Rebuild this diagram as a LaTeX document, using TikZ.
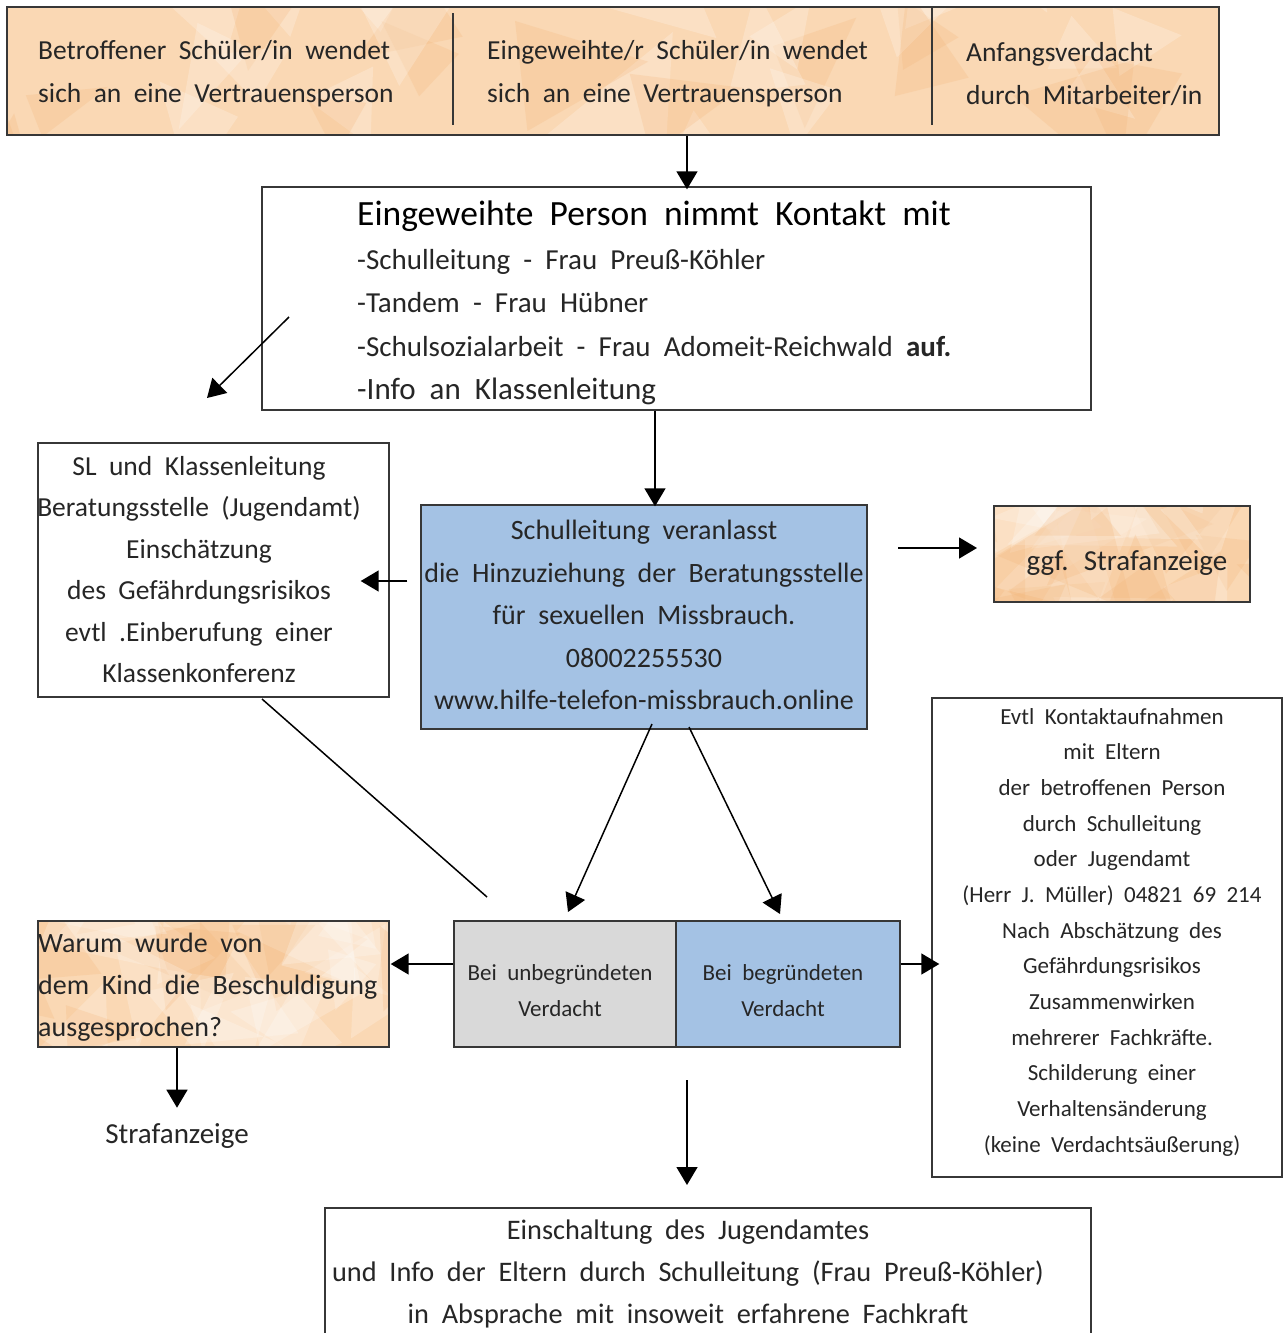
\documentclass[tikz,border=0pt]{standalone}
\usepackage{fontspec}
\setmainfont{Carlito}[WordSpace=2]
\usetikzlibrary{arrows.meta}
\definecolor{orbase}{RGB}{250,216,180}
\definecolor{ordark}{RGB}{243,178,115}
\definecolor{bluebox}{RGB}{164,194,228}
\definecolor{greybox}{RGB}{217,217,217}
\definecolor{frameclr}{RGB}{55,55,55}
\newcommand\facetbox[5]{%
  \begin{scope}
    \clip (#1,#2) rectangle (#3,#4);
    \fill[orbase] (#1,#2) rectangle (#3,#4);
    \pgfmathsetseed{#5}
    \foreach \k in {1,...,34}{%
      \pgfmathsetmacro\cx{#1+rnd*(#3-#1)}%
      \pgfmathsetmacro\cy{#2+rnd*(#4-#2)}%
      \pgfmathsetmacro\ra{60+rnd*80}%
      \pgfmathsetmacro\aa{rnd*360}%
      \pgfmathsetmacro\ab{\aa+90+rnd*60}%
      \pgfmathsetmacro\tone{rnd}%
      \ifdim\tone pt<0.55pt \def\fc{white}\else\def\fc{ordark}\fi
      \fill[\fc,opacity=0.22] (\cx,\cy) -- ++(\aa:\ra) -- ++(\ab:\ra) -- cycle;
    }
  \end{scope}}
\begin{document}
\begin{tikzpicture}[x=1pt,y=-1pt,
  frame/.style={draw=frameclr, line width=1.4pt, inner sep=0pt},
  txt/.style={inner sep=0pt, text=black!85},
  arr/.style={line width=1.5pt, draw=black, -{Triangle[length=18pt,width=21pt]}},
  plain/.style={line width=1.5pt, draw=black}]
\fill[white] (0,0) rectangle (1283,1333);
\useasboundingbox (0,0) rectangle (1283,1333);

% ---------- orange backgrounds
\facetbox{7}{7}{1219}{135}{11}
\facetbox{994}{506}{1250}{602}{23}
\facetbox{38}{921}{389}{1047}{37}

% ---------- boxes
\node[frame, minimum width=1212pt, minimum height=128pt] (top) at (613,71) {};
\draw[line width=1.4pt, frameclr] (453,13) -- (453,125);
\draw[line width=1.4pt, frameclr] (932,7) -- (932,125);
\node[frame, fill=white, minimum width=829pt, minimum height=223pt] (kontakt) at (676.5,298.5) {};
\node[frame, fill=white, minimum width=351pt, minimum height=254pt] (leftbox) at (213.5,570) {};
\node[frame, fill=bluebox, minimum width=446pt, minimum height=224pt] (blue) at (644,617) {};
\node[frame, minimum width=256pt, minimum height=96pt] (straf) at (1122,554) {};
\node[frame, fill=greybox, minimum width=222pt, minimum height=126pt] (splitL) at (565,984) {};
\node[frame, fill=bluebox, minimum width=224pt, minimum height=126pt] (splitR) at (788,984) {};
\node[frame, minimum width=351pt, minimum height=126pt] (warum) at (213.5,984) {};
\node[frame, fill=white, minimum width=350pt, minimum height=479pt] (evtl) at (1107,937.5) {};
\node[frame, fill=white, minimum width=766pt, minimum height=137pt] (bottom) at (708,1276.5) {};

% ---------- texts
\node[txt, anchor=west, align=left, font=\fontsize{27.5}{43}\selectfont] (t1) at (38,74)
  {Betroffener Schüler/in wendet\\sich an eine Vertrauensperson};
\node[txt, anchor=west, align=left, font=\fontsize{27.5}{43}\selectfont] (t2) at (487,74)
  {Eingeweihte/r Schüler/in wendet\\sich an eine Vertrauensperson};
\node[txt, anchor=west, align=left, font=\fontsize{27.5}{43}\selectfont] (t3) at (966,74)
  {Anfangsverdacht\\durch Mitarbeiter/in};
\node[txt, anchor=west, font=\fontsize{35.5}{40}\selectfont, text=black] (ktitle) at (357,216)
  {Eingeweihte Person nimmt Kontakt mit};
\node[txt, anchor=west, align=left, font=\fontsize{29}{43.3}\selectfont] (klines) at (357,327)
  {-Schulleitung - Frau Preuß-Köhler\\-Tandem - Frau Hübner\\-Schulsozialarbeit - Frau Adomeit-Reichwald \textbf{auf.}\\{\fontsize{31}{43.3}\selectfont -Info an Klassenleitung}};
\node[txt, align=center, font=\fontsize{27.5}{41.4}\selectfont] (tleft) at (199,569.5)
  {SL und Klassenleitung\\Beratungsstelle (Jugendamt)\\Einschätzung\\des Gefährdungsrisikos\\evtl .Einberufung einer\\Klassenkonferenz};
\node[txt, align=center, font=\fontsize{28}{42.5}\selectfont] (tblue) at (644,615)
  {Schulleitung veranlasst\\die Hinzuziehung der Beratungsstelle\\für sexuellen Missbrauch.\\08002255530\\www.hilfe-telefon-missbrauch.online};
\node[txt, font=\fontsize{29}{30}\selectfont] (tstraf) at (1127,563) {ggf. Strafanzeige};
\node[txt, align=center, font=\fontsize{23}{36}\selectfont] (tsl) at (560,991)
  {Bei unbegründeten\\Verdacht};
\node[txt, align=center, font=\fontsize{23}{36}\selectfont] (tsr) at (783,991)
  {Bei begründeten\\Verdacht};
\node[txt, anchor=west, align=left, font=\fontsize{28}{42}\selectfont] (twarum) at (38,987)
  {Warum wurde von\\dem Kind die Beschuldigung\\ausgesprochen?};
\node[txt, font=\fontsize{29}{30}\selectfont] (tstraf2) at (177,1136) {Strafanzeige};
\node[txt, align=center, font=\fontsize{23}{35.67}\selectfont] (tevtl) at (1112,932)
  {Evtl Kontaktaufnahmen\\mit Eltern\\der betroffenen Person\\durch Schulleitung\\oder Jugendamt\\(Herr J. Müller) 04821 69 214\\Nach Abschätzung des\\Gefährdungsrisikos\\Zusammenwirken\\mehrerer Fachkräfte.\\Schilderung einer\\Verhaltensänderung\\(keine Verdachtsäußerung)};
\node[txt, align=center, font=\fontsize{28.3}{42}\selectfont] (tbottom) at (688,1274)
  {Einschaltung des Jugendamtes\\und Info der Eltern durch Schulleitung (Frau Preuß-Köhler)\\in Absprache mit insoweit erfahrene Fachkraft};

% ---------- free connector ends
\coordinate (d1) at (289,317);
\coordinate (d2) at (207,398);
\coordinate (s1) at (898,548);
\coordinate (s2) at (977,548);
\coordinate (b1) at (652,724);
\coordinate (b2) at (568,912);
\coordinate (b3) at (689,727);
\coordinate (b4) at (780,914);
\coordinate (l1) at (262,699);
\coordinate (l2) at (487,897);
\coordinate (v1) at (687,1080);
\coordinate (v2) at (687,1185);

% ---------- connectors
\draw[arr] ([xshift=10.5pt]kontakt.north |- top.south) -- ([xshift=10.5pt,yshift=-3pt]kontakt.north);
\draw[arr] (d1) -- (d2);
\draw[arr] ([xshift=11pt]blue.north |- kontakt.south) -- ([xshift=11pt,yshift=-2pt]blue.north);
\draw[arr] ([xshift=-13pt,yshift=36pt]blue.west) -- ([xshift=-29pt,yshift=-11pt]leftbox.east);
\draw[arr] (s1) -- (s2);
\draw[arr] (b1) -- (b2);
\draw[arr] (b3) -- (b4);
\draw[plain] (l1) -- (l2);
\draw[arr] ([yshift=20pt]splitL.west) -- ([xshift=1pt,yshift=20pt]warum.east);
\draw[arr] ([xshift=-36.5pt]warum.south) -- ([xshift=-36.5pt,yshift=-60pt]warum.south);
\draw[arr] ([yshift=20pt]splitR.east) -- ([xshift=8pt,yshift=-26.5pt]evtl.west);
\draw[arr] (v1) -- (v2);
\end{tikzpicture}
\end{document}
